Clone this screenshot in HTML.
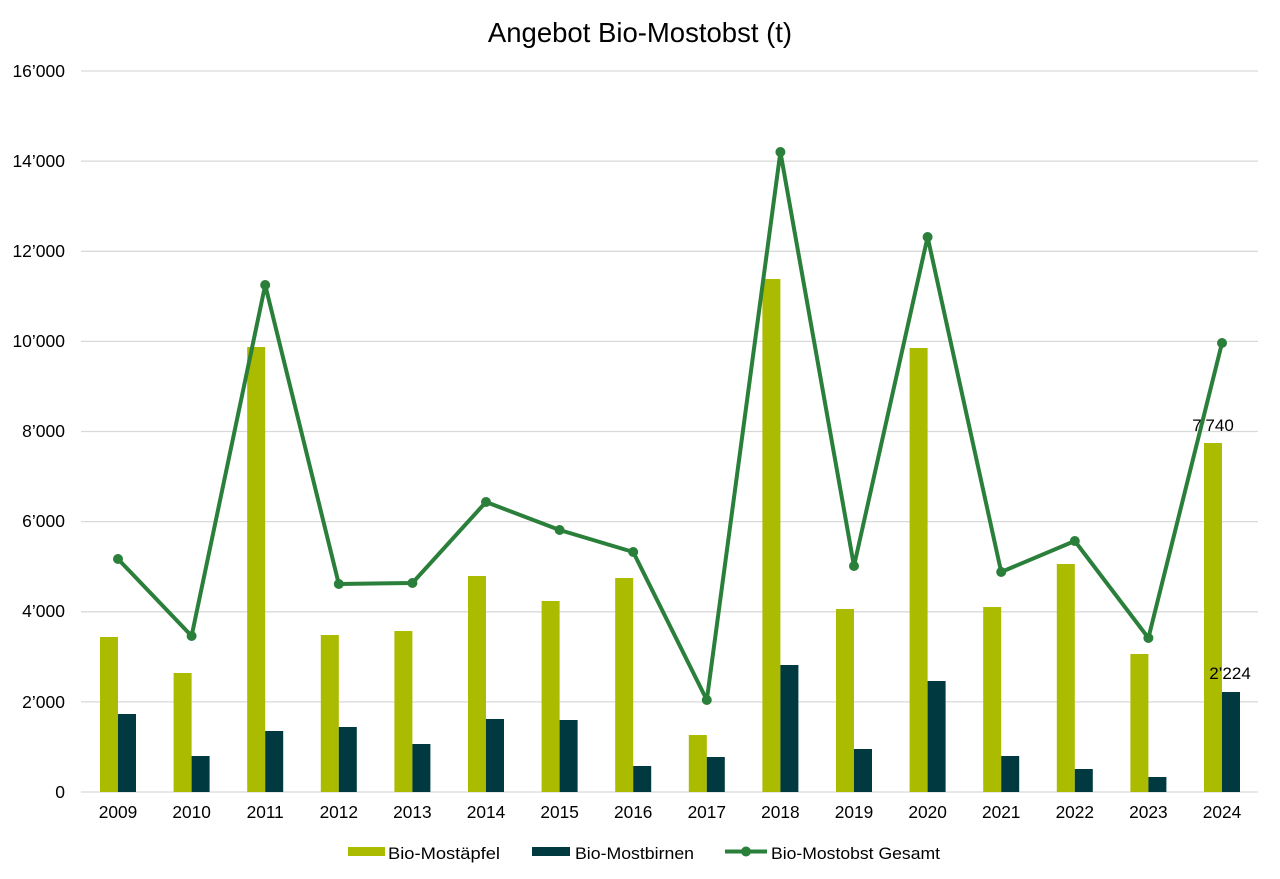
<!DOCTYPE html>
<html><head><meta charset="utf-8"><style>body{margin:0;background:#fff}svg{display:block;font-family:"Liberation Sans",sans-serif}</style></head>
<body>
<svg width="1280" height="879" viewBox="0 0 1280 879">
<rect width="1280" height="879" fill="#fff"/>
<text x="640" y="42" font-size="27.5" text-anchor="middle" fill="#000">Angebot Bio-Mostobst (t)</text>
<g stroke="#d9d9d9" stroke-width="1.3">
<line x1="81" x2="1258" y1="71" y2="71"/><line x1="81" x2="1258" y1="161.1" y2="161.1"/><line x1="81" x2="1258" y1="251.3" y2="251.3"/><line x1="81" x2="1258" y1="341.4" y2="341.4"/><line x1="81" x2="1258" y1="431.5" y2="431.5"/><line x1="81" x2="1258" y1="521.6" y2="521.6"/><line x1="81" x2="1258" y1="611.8" y2="611.8"/><line x1="81" x2="1258" y1="701.9" y2="701.9"/><line x1="81" x2="1258" y1="792" y2="792"/>
</g>
<g font-size="17.5" text-anchor="end" fill="#000">
<text x="65" y="77">16’000</text><text x="65" y="167">14’000</text><text x="65" y="257">12’000</text><text x="65" y="347">10’000</text><text x="65" y="437">8’000</text><text x="65" y="527">6’000</text><text x="65" y="617">4’000</text><text x="65" y="708">2’000</text><text x="65" y="798">0</text>
</g>
<g fill="#abbb00">
<rect x="100" y="637" width="18" height="155"/><rect x="173.6" y="673" width="18" height="119"/><rect x="247.2" y="347" width="18" height="445"/><rect x="320.8" y="635" width="18" height="157"/><rect x="394.4" y="631" width="18" height="161"/><rect x="468" y="576" width="18" height="216"/><rect x="541.6" y="601" width="18" height="191"/><rect x="615.2" y="578" width="18" height="214"/><rect x="688.8" y="735" width="18" height="57"/><rect x="762.4" y="279" width="18" height="513"/><rect x="836" y="609" width="18" height="183"/><rect x="909.6" y="348" width="18" height="444"/><rect x="983.2" y="607" width="18" height="185"/><rect x="1056.8" y="564" width="18" height="228"/><rect x="1130.4" y="654" width="18" height="138"/><rect x="1204" y="443" width="18" height="349"/>
</g>
<g fill="#003a40">
<rect x="118" y="714" width="18" height="78"/><rect x="191.6" y="756" width="18" height="36"/><rect x="265.2" y="731" width="18" height="61"/><rect x="338.8" y="727" width="18" height="65"/><rect x="412.4" y="744" width="18" height="48"/><rect x="486" y="719" width="18" height="73"/><rect x="559.6" y="720" width="18" height="72"/><rect x="633.2" y="766" width="18" height="26"/><rect x="706.8" y="757" width="18" height="35"/><rect x="780.4" y="665" width="18" height="127"/><rect x="854" y="749" width="18" height="43"/><rect x="927.6" y="681" width="18" height="111"/><rect x="1001.2" y="756" width="18" height="36"/><rect x="1074.8" y="769" width="18" height="23"/><rect x="1148.4" y="777" width="18" height="15"/><rect x="1222" y="692" width="18" height="100"/>
</g>
<g font-size="17" text-anchor="middle" fill="#000">
<text x="1213" y="431">7’740</text><text x="1230" y="679">2’224</text>
</g>
<polyline fill="none" stroke="#2a7f3a" stroke-width="4" stroke-linejoin="round" points="118,559 191.6,636 265.2,285 338.8,584 412.4,583 486,502 559.6,530 633.2,552 706.8,700 780.4,152 854,566 927.6,237 1001.2,572 1074.8,541 1148.4,638 1222,343"/>
<g fill="#2a7f3a">
<circle cx="118" cy="559" r="5"/><circle cx="191.6" cy="636" r="5"/><circle cx="265.2" cy="285" r="5"/><circle cx="338.8" cy="584" r="5"/><circle cx="412.4" cy="583" r="5"/><circle cx="486" cy="502" r="5"/><circle cx="559.6" cy="530" r="5"/><circle cx="633.2" cy="552" r="5"/><circle cx="706.8" cy="700" r="5"/><circle cx="780.4" cy="152" r="5"/><circle cx="854" cy="566" r="5"/><circle cx="927.6" cy="237" r="5"/><circle cx="1001.2" cy="572" r="5"/><circle cx="1074.8" cy="541" r="5"/><circle cx="1148.4" cy="638" r="5"/><circle cx="1222" cy="343" r="5"/>
</g>
<g font-size="17.3" text-anchor="middle" fill="#000">
<text x="118" y="818">2009</text><text x="191.6" y="818">2010</text><text x="265.2" y="818">2011</text><text x="338.8" y="818">2012</text><text x="412.4" y="818">2013</text><text x="486" y="818">2014</text><text x="559.6" y="818">2015</text><text x="633.2" y="818">2016</text><text x="706.8" y="818">2017</text><text x="780.4" y="818">2018</text><text x="854" y="818">2019</text><text x="927.6" y="818">2020</text><text x="1001.2" y="818">2021</text><text x="1074.8" y="818">2022</text><text x="1148.4" y="818">2023</text><text x="1222" y="818">2024</text>
</g>
<rect x="348" y="847" width="37" height="9" fill="#abbb00"/>
<text x="388" y="859" font-size="17" textLength="112" lengthAdjust="spacingAndGlyphs">Bio-Mostäpfel</text>
<rect x="532" y="847" width="38" height="9" fill="#003a40"/>
<text x="575" y="859" font-size="17" textLength="119" lengthAdjust="spacingAndGlyphs">Bio-Mostbirnen</text>
<line x1="725" x2="767" y1="851.5" y2="851.5" stroke="#2a7f3a" stroke-width="4"/>
<circle cx="746" cy="851.5" r="5" fill="#2a7f3a"/>
<text x="771" y="859" font-size="17" textLength="169" lengthAdjust="spacingAndGlyphs">Bio-Mostobst Gesamt</text>
</svg>
</body></html>
